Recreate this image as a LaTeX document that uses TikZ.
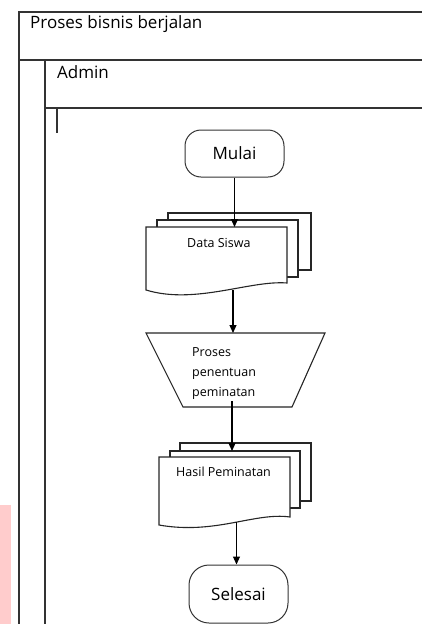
\documentclass[tikz,border=0pt]{standalone}
\usepackage{fontspec}
\setmainfont{Open Sans}
\usetikzlibrary{arrows.meta}
\begin{document}
\begin{tikzpicture}[x=1pt,y=-1pt,
 lane/.style={draw=black!80,line width=1.2pt},
 sheet/.style={draw=black!85,line width=1.1pt,fill=white},
 term/.style={draw=black!80,line width=1pt,rounded corners=16pt,fill=white,minimum width=99pt,inner sep=0pt,font=\fontsize{17}{20}\selectfont},
 lbl/.style={anchor=base west,inner sep=0pt,font=\fontsize{12.5}{15}\selectfont},
 big/.style={anchor=base west,inner sep=0pt,font=\fontsize{17}{20}\selectfont},
 flow/.style={draw=black,line width=1.1pt,-{Triangle[length=8pt,width=7pt]}},
]
\useasboundingbox (0,0) rectangle (422,624);
\fill[red!20] (0,505) rectangle (11,624);
% lanes
\draw[lane] (422,12) -- (19,12) -- (19,624);
\draw[lane] (19,60) -- (422,60);
\draw[lane] (45,60) -- (45,624);
\draw[lane] (45,108) -- (422,108);
\draw[lane] (57,108) -- (57,133);
\node[big] (title) at (30,28) {Proses bisnis berjalan};
\node[big] (admin) at (57,78) {Admin};
% terminals
\node[term, minimum height=47pt] (mulai) at (234.5,153.5) {Mulai};
\node[term, minimum height=58pt, rounded corners=20pt] (selesai) at (238.5,594) {Selesai};
% Data Siswa
\draw[sheet] (168,213) rectangle (311,270);
\draw[sheet] (157,220) rectangle (298,277);
\draw[sheet] (146,227) -- (287,227) -- (287,283) .. controls (250,280) and (195,305) .. (146,290) -- cycle;
\node[lbl] (dslabel) at (187,247) {Data Siswa};
\coordinate (dstop) at (234.5,227);
\coordinate (dsbot) at (233,290);
% process
\draw[sheet] (146,333) -- (325,333) -- (292,407) -- (183,407) -- cycle;
\coordinate (trtop) at (233,333);
\coordinate (trbot) at (232,401);
\node[lbl] (p1) at (192,356) {Proses};
\node[lbl] (p2) at (192,376) {penentuan};
\node[lbl] (p3) at (192,396) {peminatan};
% Hasil Peminatan
\draw[sheet] (180,443) rectangle (311,501);
\draw[sheet] (170,451) rectangle (300,508);
\draw[sheet] (159,457) -- (290,457) -- (290,517) .. controls (255,512) and (215,535) .. (159,525) -- cycle;
\node[lbl] (hplabel) at (176,476) {Hasil Peminatan};
\coordinate (hptop) at (232,451);
\coordinate (hpbot) at (236.5,522);
% connectors
\draw[flow] (mulai.south) -- (dstop);
\draw[flow] (dsbot) -- (trtop);
\draw[flow] (trbot) -- (hptop);
\draw[flow] (hpbot) -- (hpbot |- selesai.north);
\end{tikzpicture}
\end{document}
